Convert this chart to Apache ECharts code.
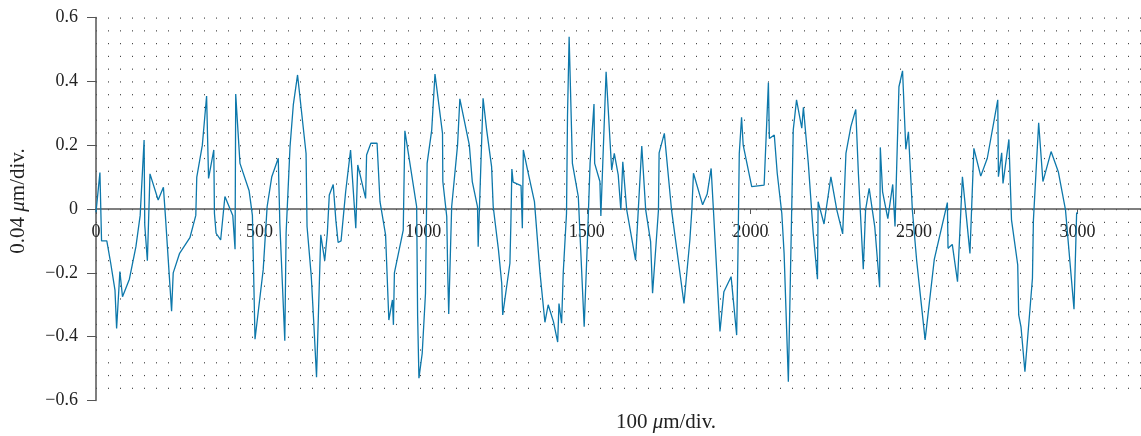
<!DOCTYPE html>
<html>
<head>
<meta charset="utf-8">
<script src="https://cdn.jsdelivr.net/npm/echarts@6/dist/echarts.min.js"></script>
<style>
    html, body { margin: 0; padding: 0; background: #fff; }
    #chart { width: 1141px; height: 436px; }
</style>
</head>
<body>
<div id="chart"></div>
<script>
// profile position (x) and height (y)
var profileX = [
    0, 12, 17, 33, 45, 58, 63, 73, 81, 102, 122, 135, 147, 149, 157, 165, 190, 206, 212, 231,
    236, 255, 287, 305, 308, 325, 338, 344, 360, 362, 367, 381, 394, 418, 425, 427, 440, 468, 478, 486,
    511, 523, 537, 557, 562, 577, 581, 593, 603, 616, 642, 645, 658, 666, 674, 687, 699, 707, 713, 725,
    733, 740, 749, 763, 778, 794, 800, 824, 827, 840, 859, 868, 885, 895, 906, 909, 912, 939, 944, 980,
    983, 987, 997, 1007, 1012, 1026, 1036, 1059, 1060, 1072, 1075, 1078, 1087, 1105, 1112, 1141, 1150, 1166, 1168, 1183,
    1194, 1209, 1214, 1230, 1240, 1243, 1265, 1268, 1271, 1275, 1299, 1303, 1306, 1319, 1340, 1357, 1372, 1382, 1398, 1411,
    1415, 1423, 1428, 1438, 1441, 1446, 1456, 1474, 1492, 1502, 1510, 1522, 1524, 1540, 1543, 1559, 1576, 1584, 1596, 1604,
    1610, 1622, 1649, 1668, 1680, 1695, 1701, 1719, 1721, 1737, 1759, 1797, 1815, 1821, 1826, 1854, 1868, 1880, 1887, 1907,
    1919, 1941, 1958, 1962, 1966, 1973, 1978, 2004, 2042, 2055, 2058, 2073, 2082, 2096, 2103, 2116, 2131, 2141, 2157, 2162,
    2177, 2192, 2205, 2207, 2225, 2246, 2264, 2282, 2292, 2307, 2322, 2330, 2345, 2352, 2363, 2380, 2395, 2397, 2404, 2420,
    2435, 2442, 2454, 2465, 2475, 2483, 2495, 2508, 2534, 2562, 2602, 2604, 2617, 2633, 2648, 2661, 2671, 2683, 2704, 2724,
    2756, 2758, 2768, 2772, 2790, 2798, 2817, 2820, 2827, 2839, 2862, 2865, 2881, 2894, 2919, 2941, 2963, 2989, 2997, 3000
];
var profileY = [
    -0.01, 0.114, -0.10, -0.10, -0.17, -0.254, -0.374, -0.196, -0.275, -0.22, -0.118, -0.02, 0.216, -0.05, -0.162, 0.11, 0.028, 0.068, -0.02, -0.32,
    -0.2, -0.14, -0.09, -0.02, 0.10, 0.2, 0.354, 0.096, 0.185, -0.014, -0.076, -0.097, 0.039, -0.02, -0.126, 0.36, 0.143, 0.057, -0.02, -0.408,
    -0.19, 0.007, 0.10, 0.159, -0.05, -0.413, -0.076, 0.195, 0.326, 0.42, 0.174, -0.055, -0.212, -0.365, -0.527, -0.081, -0.162, -0.076, 0.044, 0.077,
    -0.035, -0.105, -0.10, 0.054, 0.185, -0.06, 0.138, 0.033, 0.169, 0.206, 0.206, 0.023, -0.081, -0.348, -0.285, -0.363, -0.2, -0.066, 0.245, 0.007,
    -0.336, -0.53, -0.452, -0.264, 0.143, 0.247, 0.423, 0.237, 0.086, -0.024, -0.202, -0.329, 0.007, 0.2, 0.345, 0.2, 0.086, 0.007, -0.118, 0.347,
    0.247, 0.133, 0.007, -0.128, -0.233, -0.332, -0.17, -0.045, 0.125, 0.084, 0.073, -0.06, 0.185, 0.122, 0.023, -0.2, -0.355, -0.3, -0.353, -0.417,
    -0.296, -0.358, -0.2, -0.014, 0.29, 0.54, 0.143, 0.039, -0.369, -0.097, 0.143, 0.329, 0.143, 0.086, -0.022, 0.43, 0.122, 0.174, 0.107, -0.003,
    0.148, -0.003, -0.16, 0.197, -0.003, -0.102, -0.264, -0.003, 0.176, 0.237, -0.003, -0.296, -0.097, -0.003, 0.112, 0.013, 0.047, 0.127, -0.003, -0.384,
    -0.259, -0.212, -0.395, -0.139, 0.174, 0.287, 0.2, 0.07, 0.075, 0.396, 0.221, 0.232, 0.112, -0.014, -0.139, -0.541, 0.248, 0.342, 0.253, 0.319,
    0.143, -0.076, -0.22, 0.023, -0.047, 0.101, -0.003, -0.078, 0.174, 0.258, 0.312, 0.112, -0.189, -0.003, 0.065, -0.055, -0.245, 0.193, 0.054, -0.03,
    0.077, -0.055, 0.383, 0.433, 0.187, 0.242, -0.003, -0.16, -0.41, -0.158, 0.02, -0.123, -0.111, -0.228, 0.101, -0.034, -0.139, 0.19, 0.103, 0.159,
    0.342, 0.101, 0.176, 0.08, 0.218, -0.034, -0.175, -0.332, -0.369, -0.51, -0.217, -0.034, 0.27, 0.086, 0.18, 0.117, -0.003, -0.314, -0.014, -0.01
];

var xTicks = [0, 500, 1000, 1500, 2000, 2500, 3000];
var yTicks = [-0.6, -0.4, -0.2, 0, 0.2, 0.4, 0.6];

var serif = '"Liberation Serif", "DejaVu Serif", serif';
var axisColor = '#555';
var textColor = '#222';

var points = [];
for (var i = 0; i < profileX.length; i++) {
    points.push([profileX[i], profileY[i]]);
}

// plot box (px)
var plotLeft = 96, plotTop = 17.5, plotWidth = 1045, plotHeight = 383;
var xMax = plotWidth / 163.6 * 500;
var rowGap = plotHeight / 30;   // one dot row every 0.04
var zeroOffset = -plotHeight / 2; // lift the x axis (line, ticks, labels) up to y = 0

function fmtY(v) {
    v = Math.round(v * 10) / 10;
    if (v === 0) return '0';
    return (v < 0 ? '\u2212' : '') + Math.abs(v).toFixed(1);
}

var chart = echarts.init(document.getElementById('chart'), null, { renderer: 'canvas' });

chart.setOption({
    backgroundColor: '#fff',
    animation: false,
    grid: { left: plotLeft, top: plotTop, width: plotWidth, height: plotHeight },
    xAxis: [{
        type: 'value',
        min: 0,
        max: xMax,
        interval: 500,
        position: 'bottom',
        offset: zeroOffset,
        axisLine: { onZero: false, lineStyle: { color: axisColor, width: 1.5 } },
        axisTick: { show: true, length: 5, lineStyle: { color: axisColor } },
        axisLabel: {
            margin: 14,
            fontFamily: serif,
            fontSize: 18,
            color: textColor,
            showMaxLabel: false,
            formatter: function(v) {
                return xTicks.indexOf(v) >= 0 ? String(v) : '';
            }
        },
        splitLine: { show: false }
    }, {
        // hidden axis, only used for the dotted background lattice
        type: 'value',
        min: 0,
        max: plotWidth,
        interval: 12,
        show: true,
        axisLine: { show: false },
        axisTick: { show: false },
        axisLabel: { show: false },
        splitLine: {
            show: true,
            lineStyle: { color: '#444', width: 1, type: [1.2, rowGap - 1.2], dashOffset: 0 }
        }
    }],
    yAxis: {
        type: 'value',
        min: -0.6,
        max: 0.6,
        interval: 0.2,
        axisLine: { show: true, onZero: false, lineStyle: { color: axisColor, width: 1.5 } },
        axisTick: { show: true, length: 9, lineStyle: { color: axisColor } },
        axisLabel: {
            margin: 18,
            fontFamily: serif,
            fontSize: 18,
            color: textColor,
            formatter: function(v) {
                return yTicks.indexOf(Math.round(v * 10) / 10) >= 0 ? fmtY(v) : '';
            }
        },
        splitLine: { show: false }
    },
    graphic: [{
        type: 'text',
        x: 18,
        y: 201,
        rotation: Math.PI / 2,
        style: {
            text: '0.04 {i|\u03bc}m/div.',
            font: '21px ' + serif,
            fill: textColor,
            align: 'center',
            verticalAlign: 'middle',
            rich: { i: { fontStyle: 'italic', fontFamily: serif, fontSize: 21, fill: textColor } }
        }
    }, {
        type: 'text',
        x: 666,
        y: 422,
        style: {
            text: '100 {i|\u03bc}m/div.',
            font: '21px ' + serif,
            fill: textColor,
            align: 'center',
            verticalAlign: 'middle',
            rich: { i: { fontStyle: 'italic', fontFamily: serif, fontSize: 21, fill: textColor } }
        }
    }],
    series: [{
        type: 'line',
        xAxisIndex: 0,
        data: points,
        showSymbol: false,
        symbol: 'none',
        lineStyle: { color: '#0d78ab', width: 1.3 },
        z: 5
    }]
});
</script>
</body>
</html>
